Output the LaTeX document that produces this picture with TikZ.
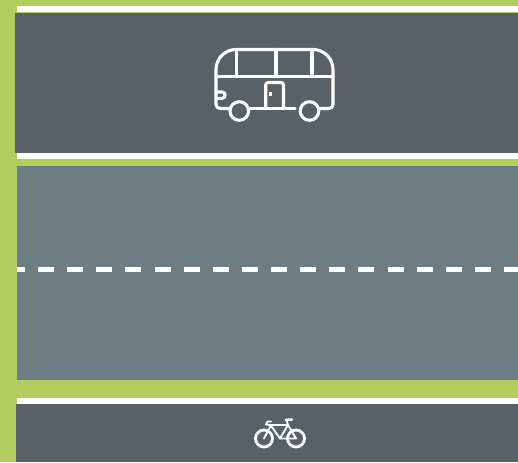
\documentclass[tikz,border=0pt]{standalone}
\definecolor{lanegreen}{HTML}{B1CD5E}
\definecolor{darklane}{HTML}{586167}
\definecolor{midlane}{HTML}{6E7C83}
\tikzset{
  icon/.style={draw=white,line width=3.1pt,line cap=round,line join=round},
  iconthin/.style={draw=white,line width=1.9pt,line cap=round,line join=round},
  whitestrip/.style={fill=white},
  dashmark/.style={fill=white}
}
\begin{document}
\begin{tikzpicture}[x=1pt,y=-1pt]
\useasboundingbox (0,0) rectangle (518,462);
\fill[lanegreen] (0,0) rectangle (518,462);
% lanes
\fill[whitestrip] (17,6) rectangle (518,12);
\fill[darklane] (15,13) rectangle (518,153);
\fill[whitestrip] (17,153) rectangle (518,159);
\fill[midlane] (17,166.5) rectangle (518,380);
\fill[whitestrip] (17,398) rectangle (518,403.5);
\fill[darklane] (16,403.5) rectangle (518,462);
% centre dashes
\fill[dashmark] (17,266.8) rectangle (25,272.4);
\foreach \i in {0,...,15}{
  \fill[dashmark] ({38+29.13*\i},266.8) rectangle ++(16,5.6);
}
\fill[dashmark] (504,266.8) rectangle (518,272.4);
% bus
\draw[icon] (228,108.5) -- (220,108.5) arc[start angle=90,end angle=180,radius=4] -- (216,69.5)
  arc[start angle=180,end angle=270,radius=20] -- (313,49.5)
  arc[start angle=270,end angle=360,radius=20] -- (333,104.5)
  arc[start angle=0,end angle=90,radius=4] -- (320,108.5);
\draw[icon] (250,108.5) -- (295,108.5);
\draw[icon] (216,76.5) -- (333,76.5);
\draw[icon] (236.7,49.5) -- (236.7,76.5);
\draw[icon] (276,49.5) -- (276,76.5);
\draw[icon] (312,49.5) -- (312,76.5);
\draw[icon] (265.7,108.5) -- (265.7,85) arc[start angle=180,end angle=270,radius=2.5] -- (281,82.5) arc[start angle=270,end angle=360,radius=2.5] -- (283.5,108.5);
\draw[draw=white,line width=2.4pt] (270.3,92.5) -- (270.3,96.5);
\draw[icon] (216,92) -- (222,92) arc[start angle=-90,end angle=90,radius=3.2] -- (216,98.4);
\draw[icon] (239.3,111) circle[radius=9.3];
\draw[icon] (309.5,111) circle[radius=9.3];
% bicycle
\draw[icon,line width=2.8pt] (264,438.5) circle[radius=8.5];
\draw[icon,line width=2.8pt] (296,438.5) circle[radius=8.5];
\draw[iconthin] (271,421.5) -- (267.5,421.5) -- (266,424.5) -- (271,425) -- (264,438.5);
\draw[iconthin] (270.5,425) -- (288,425) -- (280,438.5) -- (296,438.5) -- (288,425);
\draw[iconthin] (270.5,425) -- (280,438.5);
\draw[iconthin] (288,425) -- (286.5,420.5);
\draw[draw=white,line width=2.6pt,line cap=round] (286,420) -- (292,419.5);
\end{tikzpicture}
\end{document}
